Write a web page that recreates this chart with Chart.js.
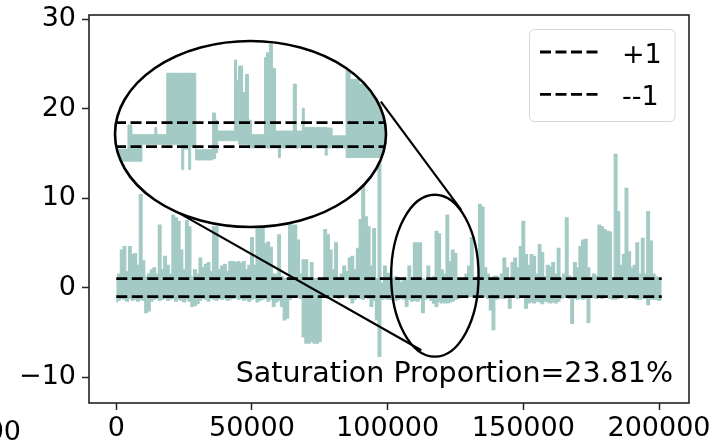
<!DOCTYPE html>
<html>
<head>
<meta charset="utf-8">
<script src="https://cdn.jsdelivr.net/npm/chart.js@4.4.1/dist/chart.umd.min.js"></script>
<style>
  html, body { margin: 0; padding: 0; background: #fff; }
  #wrap { position: relative; width: 721px; height: 443px; overflow: hidden; }
  #inset { position: absolute; }
</style>
</head>
<body>
<div id="wrap">
  <canvas id="main" width="721" height="443"></canvas>
  <canvas id="inset"></canvas>
</div>
<script>
const lineColor = "rgb(163, 202, 196)";
const fontFamily = "'DejaVu Sans', sans-serif";

// envelope of the trace, one column every 1000 samples (top / bottom of the band)
const sampleStep = 1000;
const upper = [
  0.8, 1.5, 4.2, 4.6, 1.8, 4.6, 3.7, 3.8, 2.5, 10.4,
  3.0, 1.2, 1.5, 2.0, 2.2, 1.5, 7.0, 2.0, 3.5, 2.5,
  1.5, 8.1, 7.8, 7.4, 4.2, 2.0, 7.5, 6.8, 1.2, 2.0,
  1.5, 3.3, 2.2, 2.6, 2.8, 1.8, 6.8, 6.8, 2.0, 2.4,
  2.6, 1.8, 2.9, 2.9, 2.8, 2.9, 2.7, 2.9, 2.0, 2.5,
  5.6, 2.5, 6.8, 6.8, 6.8, 4.9, 5.1, 4.5, 1.5, 1.5,
  5.9, 1.2, 1.0, 1.0, 7.2, 7.0, 7.0, 5.3, 1.5, 3.1,
  3.1, 1.0, 2.8, 1.0, 1.0, 0.9, 1.0, 6.5, 5.9, 4.2,
  2.0, 5.0, 1.0, 1.5, 2.4, 1.8, 3.3, 3.5, 2.0, 4.4,
  7.6, 14, 7.9, 6.8, 2.4, 6.6, 1.0, 15, 0.5, 2.4,
  1.6, 1.6, 1.0, 1.2, 0.9, 0.6, 0.9, 0.8, 2.4, 1.0,
  5.0, 5.0, 5.0, 1.0, 0.9, 2.4, 1.0, 1.2, 6.3, 6.0,
  2.0, 1.5, 8.1, 2.9, 4.2, 3.8, 1.0, 1.0, 1.0, 1.5,
  2.4, 5.6, 1.0, 1.2, 9.3, 9.0, 2.2, 1.5, 1.0, 1.2,
  1.3, 1.0, 1.5, 3.3, 2.2, 1.0, 2.8, 3.3, 2.2, 4.6,
  7.4, 3.7, 2.5, 3.7, 3.5, 1.5, 4.8, 3.9, 1.2, 2.5,
  2.3, 2.8, 1.5, 4.4, 1.0, 1.5, 7.8, 1.3, 1.0, 2.8,
  2.2, 4.6, 5.3, 5.4, 2.2, 1.0, 1.5, 1.3, 7.0, 6.8,
  6.5, 6.3, 6.2, 1.0, 14.9, 8.5, 2.5, 3.7, 11.1, 4.0,
  2.2, 2.5, 5.0, 1.5, 5.5, 1.5, 8.5, 5.2, 1.5, 1.2,
  1.0, 0.9
];
const lower = [
  -1.6, -1.4, -1.2, -1.3, -1.5, -1.2, -1.4, -1.3, -1.5, -1.3,
  -1.4, -2.8, -2.6, -1.5, -1.3, -1.2, -1.4, -1.3, -1.2, -1.4,
  -1.3, -1.2, -1.5, -1.3, -1.4, -1.6, -1.3, -1.5, -2.1, -2.0,
  -1.8, -1.4, -1.2, -1.3, -1.5, -1.2, -1.3, -1.4, -1.2, -1.3,
  -1.2, -1.4, -1.3, -1.2, -1.1, -1.3, -1.2, -1.4, -1.3, -1.5,
  -1.3, -1.2, -1.6, -1.4, -1.3, -1.2, -1.5, -1.3, -2.1, -1.6,
  -1.4, -2.1, -3.6, -3.4, -1.3, -1.0, -1.1, -1.0, -1.2, -5.5,
  -6.2, -6.2, -6.0, -6.2, -6.2, -6.0, -1.0, -1.1, -1.2, -1.0,
  -1.1, -1.0, -1.2, -1.0, -1.1, -1.0, -1.2, -1.7, -1.3, -1.1,
  -1.2, -1.3, -1.1, -1.2, -2.1, -1.4, -3.6, -7.7, -1.3, -1.2,
  -1.3, -1.3, -1.2, -1.4, -1.3, -1.2, -1.3, -2.1, -1.3, -1.5,
  -1.4, -1.5, -1.3, -2.8, -1.3, -1.2, -1.4, -1.75, -2.1, -1.6,
  -1.7, -1.7, -1.7, -1.6, -1.5, -1.3, -1.2, -1.0, -1.0, -1.1,
  -1.0, -1.0, -1.1, -1.0, -1.0, -1.1, -1.0, -1.2, -2.5, -4.7,
  -1.3, -1.2, -1.2, -1.2, -1.1, -2.3, -1.1, -1.1, -1.2, -1.1,
  -1.1, -2.3, -1.7, -1.6, -1.7, -1.5, -1.6, -1.8, -1.5, -1.6,
  -1.7, -1.6, -1.7, -1.5, -1.2, -1.1, -1.1, -1.2, -4.0, -1.2,
  -1.3, -1.2, -1.3, -1.2, -3.9, -1.1, -1.1, -1.2, -1.1, -1.2,
  -1.1, -1.1, -1.2, -1.3, -1.3, -1.2, -1.1, -1.1, -1.2, -1.1,
  -1.1, -1.2, -1.3, -1.3, -1.2, -1.2, -1.9, -1.3, -1.3, -1.3,
  -1.4, -1.3
];
const sampleX = upper.map((_, i) => i * sampleStep);

const xTicks = [0, 50000, 100000, 150000, 200000];
const yTicks = [-10, 0, 10, 20, 30];
const bandLevels = [1, -1];
const bandLabels = ["+1", "--1"];
const ratioText = "Saturation Proportion=23.81%";

// zoomed inset: each entry starts a step that holds until the next one
const insetX = [101200, 102750, 103220, 104420, 105960, 106200, 107390, 109180, 109420, 110010,
  110250, 110850, 112870, 113230, 113470, 115490, 115730, 115970, 116450, 116800,
  117160, 117520, 119070, 119300, 119660, 120020, 120380, 120730, 120970, 122520,
  122880, 123590, 123830, 126330, 126570, 127160, 128830, 129310, 130380, 133600];
const insetUpper = [-1.2, 0.8, 0.0, 0.0, 0.6, 0.0, 5.1, 5.1, 5.1, 5.1,
  5.1, -1.25, 1.8, 1.2, 0.3, 6.2, 4.5, 5.7, 3.5, 5.0,
  1.2, 0.0, 6.4, 6.8, 7.5, 5.5, 0.3, 0.3, 0.3, 4.2,
  0.3, 2.2, 0.6, 0.6, 0.55, -0.1, 5.3, 4.6, 4.2, 4.2];
const insetLower = [-2.2, -2.2, -2.2, -0.8, -0.8, -0.8, -0.8, -2.9, -1.2, -2.9,
  -1.0, -2.1, -2.0, -1.5, -0.5, -0.5, -0.5, -0.8, -0.8, -0.8,
  -1.1, -1.1, -1.1, -1.1, -1.1, -1.1, -1.1, -1.9, -1.1, -1.1,
  -1.1, -1.1, -1.1, -1.7, -1.1, -1.1, -1.9, -1.9, -1.9, -1.9];
const insetYRange = [-7.67, 7.78];

// ellipses and connector ends, in the main chart's data units
const zoomArea = { x: 117400, y: 1.33, rx: 16100, ry: 9.05 };
const insetArea = { x: 49450, y: 17.2, rx: 49970, ry: 10.38 };
const connectors = [
  [[97500, 20.8], [127100, 8.7]],
  [[20400, 8.8], [112400, -7.0]]
];

const dashed = [11, 4.5];

const envelopeSets = (xs, ups, lows, width, stepped) => [
  {
    label: "trace",
    data: xs.map((x, i) => ({ x, y: ups[i] })),
    borderColor: lineColor, borderWidth: width, pointRadius: 0,
    stepped, fill: false, order: 1
  },
  {
    label: "trace low",
    data: xs.map((x, i) => ({ x, y: lows[i] })),
    borderColor: lineColor, backgroundColor: lineColor, borderWidth: width, pointRadius: 0,
    stepped, fill: "-1", order: 1
  }
];

const bandSets = (x0, x1) => bandLevels.map((lvl, k) => ({
  label: bandLabels[k],
  data: [{ x: x0, y: lvl }, { x: x1, y: lvl }],
  borderColor: "#000", borderWidth: 2.8, borderDash: dashed,
  pointRadius: 0, fill: false, order: 0
}));

const decor = {
  id: "decor",
  afterDatasetsDraw(chart) {
    const { ctx, chartArea: a, scales: { x, y } } = chart;
    ctx.save();
    ctx.strokeStyle = "#000";
    ctx.lineWidth = 2.4;
    ctx.beginPath();
    ctx.ellipse(
      x.getPixelForValue(zoomArea.x), y.getPixelForValue(zoomArea.y),
      x.getPixelForValue(zoomArea.x + zoomArea.rx) - x.getPixelForValue(zoomArea.x),
      y.getPixelForValue(zoomArea.y) - y.getPixelForValue(zoomArea.y + zoomArea.ry),
      0, 0, Math.PI * 2);
    ctx.stroke();
    ctx.lineWidth = 2.2;
    for (const [p, q] of connectors) {
      ctx.beginPath();
      ctx.moveTo(x.getPixelForValue(p[0]), y.getPixelForValue(p[1]));
      ctx.lineTo(x.getPixelForValue(q[0]), y.getPixelForValue(q[1]));
      ctx.stroke();
    }

    // axes frame
    ctx.lineWidth = 1.6;
    ctx.strokeStyle = "#222";
    ctx.strokeRect(a.left, a.top, a.width, a.height);

    // legend
    ctx.beginPath();
    ctx.roundRect(529.5, 29.5, 145.5, 92, 5);
    ctx.fillStyle = "rgba(255,255,255,0.8)";
    ctx.fill();
    ctx.lineWidth = 1;
    ctx.strokeStyle = "#d6d6d6";
    ctx.stroke();
    ctx.font = `27px ${fontFamily}`;
    ctx.fillStyle = "#000";
    ctx.textAlign = "left";
    ctx.textBaseline = "alphabetic";
    chart.data.datasets.slice(2).forEach((ds, k) => {
      const ly = 52 + k * 42.3;
      ctx.setLineDash(ds.borderDash);
      ctx.strokeStyle = ds.borderColor;
      ctx.lineWidth = ds.borderWidth;
      ctx.beginPath();
      ctx.moveTo(540, ly);
      ctx.lineTo(598, ly);
      ctx.stroke();
      ctx.setLineDash([]);
      ctx.fillText(ds.label, 622, ly + 11);
    });

    // cut-off tick label of the neighbouring panel
    ctx.textAlign = "right";
    ctx.fillText("00", 21, 440);
    ctx.font = `28.5px ${fontFamily}`;
    ctx.fillText(ratioText, a.right - 16, a.bottom - 21);
    ctx.restore();
  }
};

const mainChart = new Chart(document.getElementById("main"), {
  type: "line",
  data: {
    datasets: [
      ...envelopeSets(sampleX, upper, lower, 1.2, "middle"),
      ...bandSets(sampleX[0], sampleX[sampleX.length - 1])
    ]
  },
  options: {
    responsive: false,
    animation: false,
    events: [],
    layout: { padding: { top: 15, right: 32, left: 0, bottom: 0 } },
    plugins: { legend: { display: false }, tooltip: { enabled: false } },
    scales: {
      x: {
        type: "linear", min: -10050, max: 211050,
        afterBuildTicks: (s) => { s.ticks = xTicks.map((v) => ({ value: v })); },
        afterFit: (s) => { s.height = 40; s.paddingLeft = 0; s.paddingRight = 0; },
        border: { display: false },
        grid: { drawOnChartArea: false, tickLength: 7, tickWidth: 1.5, tickColor: "#222" },
        ticks: { font: { family: fontFamily, size: 27 }, color: "#000", padding: 3,
          maxRotation: 0, minRotation: 0, autoSkip: false,
          callback: (v) => String(v) }
      },
      y: {
        type: "linear", min: -12.9, max: 30.48,
        afterBuildTicks: (s) => { s.ticks = yTicks.map((v) => ({ value: v })); },
        afterFit: (s) => { s.width = 89; s.paddingTop = 0; s.paddingBottom = 0; },
        border: { display: false },
        grid: { drawOnChartArea: false, tickLength: 7, tickWidth: 1.5, tickColor: "#222" },
        ticks: { font: { family: fontFamily, size: 27 }, color: "#000", padding: 6, autoSkip: false,
          callback: (v) => (v < 0 ? "\u2212" + Math.abs(v) : String(v)) }
      }
    }
  },
  plugins: [decor]
});

// place the inset over the big ellipse
const sx = mainChart.scales.x;
const sy = mainChart.scales.y;
const pad = 4;
const eLeft = sx.getPixelForValue(insetArea.x - insetArea.rx);
const eRight = sx.getPixelForValue(insetArea.x + insetArea.rx);
const eTop = sy.getPixelForValue(insetArea.y + insetArea.ry);
const eBottom = sy.getPixelForValue(insetArea.y - insetArea.ry);
const insetCanvas = document.getElementById("inset");
insetCanvas.width = Math.round(eRight - eLeft) + 2 * pad;
insetCanvas.height = Math.round(eBottom - eTop) + 2 * pad;
insetCanvas.style.left = Math.round(eLeft) - pad + "px";
insetCanvas.style.top = Math.round(eTop) - pad + "px";

const ellipseFrame = {
  id: "ellipseFrame",
  beforeDatasetsDraw(chart) {
    const { ctx, chartArea: a } = chart;
    ctx.save();
    ctx.beginPath();
    ctx.ellipse((a.left + a.right) / 2, (a.top + a.bottom) / 2, a.width / 2, a.height / 2, 0, 0, Math.PI * 2);
    ctx.fillStyle = "#fff";
    ctx.fill();
    ctx.clip();
  },
  afterDatasetsDraw(chart) {
    const { ctx, chartArea: a } = chart;
    ctx.restore();
    ctx.save();
    ctx.beginPath();
    ctx.ellipse((a.left + a.right) / 2, (a.top + a.bottom) / 2, a.width / 2, a.height / 2, 0, 0, Math.PI * 2);
    ctx.lineWidth = 2.6;
    ctx.strokeStyle = "#000";
    ctx.stroke();
    ctx.restore();
  }
};

const insetChart = new Chart(insetCanvas, {
  type: "line",
  data: {
    datasets: [
      ...envelopeSets(insetX, insetUpper, insetLower, 1, true),
      ...bandSets(insetX[0], insetX[insetX.length - 1])
    ]
  },
  options: {
    responsive: false,
    animation: false,
    events: [],
    layout: { padding: pad },
    plugins: { legend: { display: false }, tooltip: { enabled: false } },
    scales: {
      x: { type: "linear", display: false, min: insetX[0], max: insetX[insetX.length - 1] },
      y: { type: "linear", display: false, min: insetYRange[0], max: insetYRange[1] }
    }
  },
  plugins: [ellipseFrame]
});
</script>
</body>
</html>
